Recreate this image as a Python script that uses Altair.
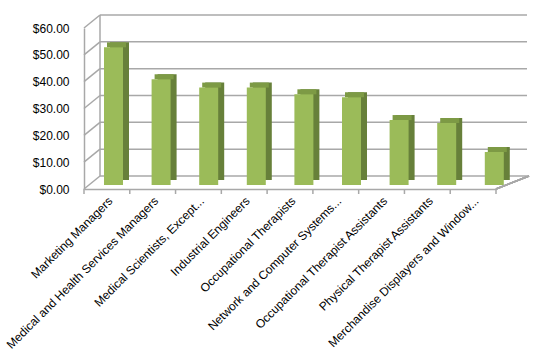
import altair as alt
import pandas as pd

categories = [
    "Marketing Managers",
    "Medical and Health Services Managers",
    "Medical Scientists, Except...",
    "Industrial Engineers",
    "Occupational Therapists",
    "Network and Computer Systems...",
    "Occupational Therapist Assistants",
    "Physical Therapist Assistants",
    "Merchandise Displayers and Window...",
]
values = [51.3, 39.4, 36.3, 36.3, 33.8, 32.7, 24.2, 23.1, 12.3]
y_ticks = [0, 10, 20, 30, 40, 50, 60]

bars = pd.DataFrame({"cat": categories, "value": values})
grid = pd.DataFrame({"v": y_ticks})
last = pd.DataFrame({"cat": categories[-1:]})

W, H = 412, 161
DEPTH_X, DEPTH_Y = 16, 13
FRONT = "#9BBB59"
SIDE = "#67803A"
TOP = "#7D9A45"
GRID = "#A8A8A8"
FONT = "Liberation Sans"

yscale = alt.Scale(domain=[0, 60], nice=False)
yaxis = alt.Axis(values=y_ticks, format="$,.2f", grid=False, ticks=False,
                 labelPadding=15, labelFont=FONT, labelFontSize=12,
                 labelColor="#000000", domainColor=GRID, domainWidth=1.5,
                 title=None)
bar_x = alt.Scale(domain=categories, range=[5.7, 434.1], paddingInner=0, paddingOuter=0)
lab_x = alt.Scale(domain=categories, paddingInner=0, paddingOuter=0)

back_grid = alt.Chart(grid).mark_rule(color=GRID, strokeWidth=1.5, yOffset=-DEPTH_Y).encode(
    x=alt.value(DEPTH_X), x2=alt.value(W + 31),
    y=alt.Y("v:Q", scale=yscale, axis=yaxis),
)
left_wall = alt.Chart(grid).mark_rule(color=GRID, strokeWidth=1.5, y2Offset=-DEPTH_Y).encode(
    x=alt.value(0), x2=alt.value(DEPTH_X),
    y=alt.Y("v:Q", scale=yscale, axis=yaxis), y2=alt.Y2("v"),
)
back_edge = alt.Chart(grid).mark_rule(color=GRID, strokeWidth=1.5, yOffset=-DEPTH_Y, y2Offset=-DEPTH_Y).encode(
    x=alt.value(DEPTH_X),
    y=alt.Y("v:Q", aggregate="max", scale=yscale, axis=yaxis),
    y2=alt.Y2("v", aggregate="min"),
)
floor_right = alt.Chart(grid).mark_rule(color=GRID, strokeWidth=1.5).encode(
    x=alt.value(W), x2=alt.value(W + 33), y=alt.value(H), y2=alt.value(H - DEPTH_Y),
)

side = alt.Chart(bars).mark_bar(size=19, color=SIDE, xOffset=6, yOffset=-9, y2Offset=-9).encode(
    x=alt.X("cat:N", sort=categories, scale=bar_x, axis=None),
    y=alt.Y("value:Q", scale=yscale, axis=yaxis),
)
top = alt.Chart(bars).mark_bar(size=19, color=TOP, xOffset=3, yOffset=-9, y2Offset=-4).encode(
    x=alt.X("cat:N", sort=categories, scale=bar_x, axis=None),
    y=alt.Y("value:Q", scale=yscale, axis=yaxis), y2=alt.Y2("value"),
)
front = alt.Chart(bars).mark_bar(size=19, color=FRONT, yOffset=-4, y2Offset=-4).encode(
    x=alt.X("cat:N", sort=categories, scale=bar_x, axis=None),
    y=alt.Y("value:Q", scale=yscale, axis=yaxis),
)

ticks = alt.Chart(bars).mark_rule(color=GRID, strokeWidth=1.5, xOffset=-W / 18).encode(
    x=alt.X("cat:N", sort=categories, scale=lab_x,
            axis=alt.Axis(labelAngle=-45, ticks=False, labelPadding=6, labelFont=FONT,
                          labelFontSize=12, labelColor="#000000", labelLimit=400,
                          domainColor=GRID, domainWidth=1.5, title=None)),
    y=alt.value(H), y2=alt.value(H + 5),
)
end_tick = alt.Chart(last).mark_rule(color=GRID, strokeWidth=1.5, xOffset=W / 18).encode(
    x=alt.X("cat:N", sort=categories, scale=lab_x, axis=None),
    y=alt.value(H), y2=alt.value(H + 5),
)

chart = alt.layer(
    back_grid, left_wall, back_edge, floor_right, ticks, end_tick, side, top, front
).resolve_scale(x="independent").properties(
    width=W, height=H,
    autosize=alt.AutoSizeParams(type="none"),
    padding={"left": 84, "top": 28, "right": 45, "bottom": 173},
    background="white",
).configure_view(stroke=None)

chart.save("out.html", embed_options={"renderer": "svg", "actions": False})
